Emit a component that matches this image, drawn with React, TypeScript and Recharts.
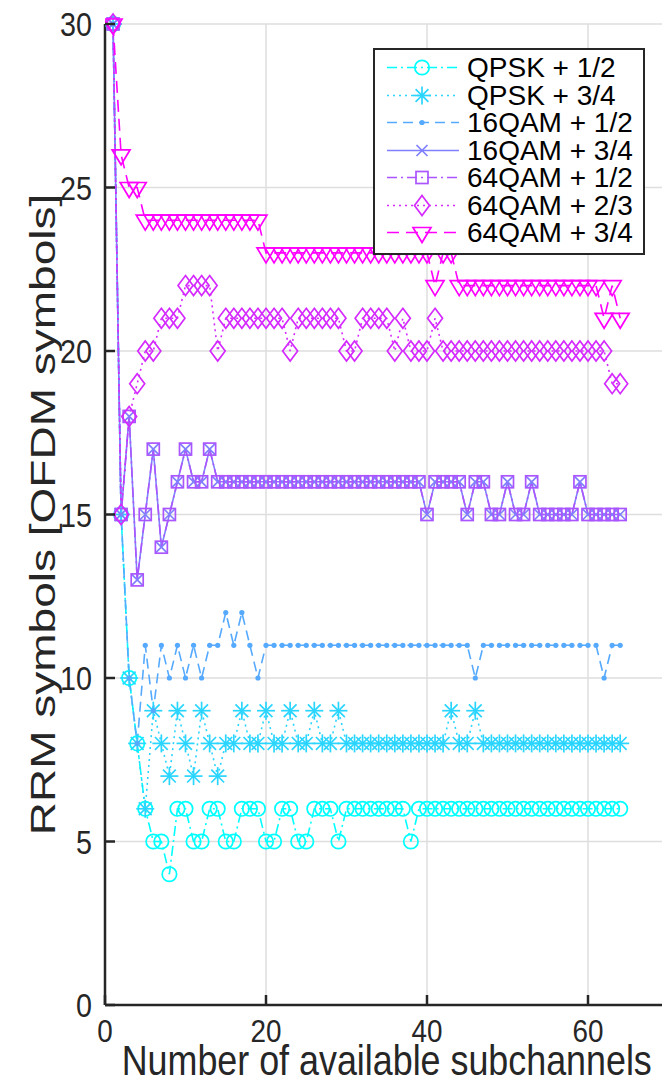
import React from 'react';
import { LineChart, Line, XAxis, YAxis, CartesianGrid, Legend } from 'recharts';

const subchannels = [
  1, 2, 3, 4, 5, 6, 7, 8, 9, 10, 11, 12, 13, 14, 15, 16,
  17, 18, 19, 20, 21, 22, 23, 24, 25, 26, 27, 28, 29, 30, 31, 32,
  33, 34, 35, 36, 37, 38, 39, 40, 41, 42, 43, 44, 45, 46, 47, 48,
  49, 50, 51, 52, 53, 54, 55, 56, 57, 58, 59, 60, 61, 62, 63, 64,
];

const qpsk12 = [
  30, 15, 10, 8, 6, 5, 5, 4, 6, 6, 5, 5, 6, 6, 5, 5,
  6, 6, 6, 5, 5, 6, 6, 5, 5, 6, 6, 6, 5, 6, 6, 6,
  6, 6, 6, 6, 6, 5, 6, 6, 6, 6, 6, 6, 6, 6, 6, 6,
  6, 6, 6, 6, 6, 6, 6, 6, 6, 6, 6, 6, 6, 6, 6, 6,
];

const qpsk34 = [
  30, 15, 10, 8, 6, 9, 8, 7, 9, 8, 7, 9, 8, 7, 8, 8,
  9, 8, 8, 9, 8, 8, 9, 8, 8, 9, 8, 8, 9, 8, 8, 8,
  8, 8, 8, 8, 8, 8, 8, 8, 8, 8, 9, 8, 8, 9, 8, 8,
  8, 8, 8, 8, 8, 8, 8, 8, 8, 8, 8, 8, 8, 8, 8, 8,
];

const qam16_12 = [
  30, 15, 10, 8, 11, 9, 11, 10, 11, 10, 11, 10, 11, 11, 12, 11,
  12, 11, 10, 11, 11, 11, 11, 11, 11, 11, 11, 11, 11, 11, 11, 11,
  11, 11, 11, 11, 11, 11, 11, 11, 11, 11, 11, 11, 11, 10, 11, 11,
  11, 11, 11, 11, 11, 11, 11, 11, 11, 11, 11, 11, 11, 10, 11, 11,
];

const qam16_34 = [
  30, 15, 18, 13, 15, 17, 14, 15, 16, 17, 16, 16, 17, 16, 16, 16,
  16, 16, 16, 16, 16, 16, 16, 16, 16, 16, 16, 16, 16, 16, 16, 16,
  16, 16, 16, 16, 16, 16, 16, 15, 16, 16, 16, 16, 15, 16, 16, 15,
  15, 16, 15, 15, 16, 15, 15, 15, 15, 15, 16, 15, 15, 15, 15, 15,
];

const qam64_12 = [
  30, 15, 18, 13, 15, 17, 14, 15, 16, 17, 16, 16, 17, 16, 16, 16,
  16, 16, 16, 16, 16, 16, 16, 16, 16, 16, 16, 16, 16, 16, 16, 16,
  16, 16, 16, 16, 16, 16, 16, 15, 16, 16, 16, 16, 15, 16, 16, 15,
  15, 16, 15, 15, 16, 15, 15, 15, 15, 15, 16, 15, 15, 15, 15, 15,
];

const qam64_23 = [
  30, 15, 18, 19, 20, 20, 21, 21, 21, 22, 22, 22, 22, 20, 21, 21,
  21, 21, 21, 21, 21, 21, 20, 21, 21, 21, 21, 21, 21, 20, 20, 21,
  21, 21, 21, 20, 21, 20, 20, 20, 21, 20, 20, 20, 20, 20, 20, 20,
  20, 20, 20, 20, 20, 20, 20, 20, 20, 20, 20, 20, 20, 20, 19, 19,
];

const qam64_34 = [
  30, 26, 25, 25, 24, 24, 24, 24, 24, 24, 24, 24, 24, 24, 24, 24,
  24, 24, 24, 23, 23, 23, 23, 23, 23, 23, 23, 23, 23, 23, 23, 23,
  23, 23, 23, 23, 23, 23, 23, 23, 22, 23, 23, 22, 22, 22, 22, 22,
  22, 22, 22, 22, 22, 22, 22, 22, 22, 22, 22, 22, 22, 21, 22, 21,
];

const xTicks = [0, 20, 40, 60];
const yTicks = [0, 5, 10, 15, 20, 25, 30];

type Marker = 'circle' | 'asterisk' | 'point' | 'cross' | 'square' | 'diamond' | 'triangle';

const series: { key: string; name: string; color: string; dash?: string; marker: Marker; values: number[] }[] = [
  { key: 'qpsk12', name: 'QPSK + 1/2', color: '#00ffff', dash: '10 4 2 4', marker: 'circle', values: qpsk12 },
  { key: 'qpsk34', name: 'QPSK + 3/4', color: '#2ad5ff', dash: '2 4', marker: 'asterisk', values: qpsk34 },
  { key: 'qam16_12', name: '16QAM + 1/2', color: '#55aaff', dash: '10 6', marker: 'point', values: qam16_12 },
  { key: 'qam16_34', name: '16QAM + 3/4', color: '#8080ff', marker: 'cross', values: qam16_34 },
  { key: 'qam64_12', name: '64QAM + 1/2', color: '#aa55ff', dash: '10 4 2 4', marker: 'square', values: qam64_12 },
  { key: 'qam64_23', name: '64QAM + 2/3', color: '#d52aff', dash: '2 4', marker: 'diamond', values: qam64_23 },
  { key: 'qam64_34', name: '64QAM + 3/4', color: '#ff00ff', dash: '12 7', marker: 'triangle', values: qam64_34 },
];

const data = subchannels.map((x, i) => {
  const row: Record<string, number> = { x };
  series.forEach((s) => {
    row[s.key] = s.values[i];
  });
  return row;
});

const FONT = '"Liberation Sans", Arial, Helvetica, sans-serif';
const AXIS = '#262626';

function drawMarker(marker: Marker, cx: number, cy: number, color: string, key?: string) {
  const sw = 1.7;
  switch (marker) {
    case 'circle':
      return <circle key={key} cx={cx} cy={cy} r={7.2} fill="none" stroke={color} strokeWidth={sw} />;
    case 'asterisk': {
      const r = 9;
      const d = 6.4;
      return (
        <g key={key} stroke={color} strokeWidth={sw}>
          <line x1={cx - r} y1={cy} x2={cx + r} y2={cy} />
          <line x1={cx} y1={cy - r} x2={cx} y2={cy + r} />
          <line x1={cx - d} y1={cy - d} x2={cx + d} y2={cy + d} />
          <line x1={cx - d} y1={cy + d} x2={cx + d} y2={cy - d} />
        </g>
      );
    }
    case 'point':
      return <circle key={key} cx={cx} cy={cy} r={2.6} fill={color} stroke="none" />;
    case 'cross': {
      const r = 5.5;
      return (
        <g key={key} stroke={color} strokeWidth={sw}>
          <line x1={cx - r} y1={cy - r} x2={cx + r} y2={cy + r} />
          <line x1={cx - r} y1={cy + r} x2={cx + r} y2={cy - r} />
        </g>
      );
    }
    case 'square':
      return <rect key={key} x={cx - 6} y={cy - 6} width={12} height={12} fill="none" stroke={color} strokeWidth={sw} />;
    case 'diamond':
      return (
        <polygon
          key={key}
          points={`${cx},${cy - 10} ${cx + 7.5},${cy} ${cx},${cy + 10} ${cx - 7.5},${cy}`}
          fill="none"
          stroke={color}
          strokeWidth={sw}
        />
      );
    case 'triangle':
    default:
      return (
        <polygon
          key={key}
          points={`${cx - 9},${cy - 5} ${cx + 9},${cy - 5} ${cx},${cy + 10}`}
          fill="none"
          stroke={color}
          strokeWidth={sw}
        />
      );
  }
}

const makeDot = (marker: Marker, color: string) => (props: any) => {
  const { cx, cy, index } = props;
  if (cx == null || cy == null) return <g key={`e-${index}`} />;
  return drawMarker(marker, cx, cy, color, `m-${index}`);
};

const YTick = (props: any) => {
  const { x, y, payload } = props;
  const ax = x + 13;
  return (
    <g>
      <line x1={ax} y1={y} x2={ax + 10} y2={y} stroke={AXIS} strokeWidth={2.5} />
      <text
        transform={`translate(${x} ${y + 12}) scale(0.87 1)`}
        textAnchor="end"
        fontSize={33}
        fontFamily={FONT}
        fill={AXIS}
      >
        {payload.value}
      </text>
    </g>
  );
};

const XTick = (props: any) => {
  const { x, y, payload } = props;
  return (
    <g>
      <line x1={x} y1={y} x2={x} y2={y - 10} stroke={AXIS} strokeWidth={2.5} />
      <text
        transform={`translate(${x} ${y + 37}) scale(0.87 1)`}
        textAnchor="middle"
        fontSize={32}
        fontFamily={FONT}
        fill={AXIS}
      >
        {payload.value}
      </text>
    </g>
  );
};

const YLabel = (props: any) => {
  const vb = props.viewBox || { x: 0, y: 24, width: 105, height: 981 };
  const cx = 55;
  const cy = vb.y + vb.height / 2;
  return (
    <text
      transform={`translate(${cx} ${cy}) rotate(-90) scale(1 0.78)`}
      textAnchor="middle"
      fontSize={46}
      fontFamily={FONT}
      fill={AXIS}
    >
      RRM symbols [OFDM symbols]
    </text>
  );
};

const XLabel = (props: any) => {
  const vb = props.viewBox || { x: 105, y: 1005, width: 563, height: 80 };
  const cx = vb.x + vb.width / 2;
  return (
    <text
      transform={`translate(${cx} 1075) scale(0.834 1)`}
      textAnchor="middle"
      fontSize={43}
      fontFamily={FONT}
      fill={AXIS}
    >
      Number of available subchannels
    </text>
  );
};

const LegendBox = () => (
  <div
    style={{
      border: `2px solid ${AXIS}`,
      background: '#fff',
      width: 268,
      height: 199,
      boxSizing: 'content-box',
      paddingTop: 4,
      fontFamily: FONT,
    }}
  >
    {series.map((s) => (
      <div key={s.key} style={{ display: 'flex', alignItems: 'center', height: 27.5 }}>
        <svg width={92} height={27} style={{ display: 'block' }}>
          <line
            x1={12}
            y1={13.5}
            x2={84}
            y2={13.5}
            stroke={s.color}
            strokeWidth={1.6}
            strokeDasharray={s.dash}
          />
          {drawMarker(s.marker, 47, 13.5, s.color)}
        </svg>
        <span style={{ fontSize: 28, color: '#000', lineHeight: '27px', whiteSpace: 'nowrap' }}>{s.name}</span>
      </div>
    ))}
  </div>
);

export default function App() {
  return (
    <div style={{ position: 'absolute', left: 0, top: 0, width: 662, height: 1085, overflow: 'hidden', background: '#fff' }}>
      <LineChart width={680} height={1085} data={data} margin={{ top: 24, right: 11.5, left: 0, bottom: 0 }}>
        <CartesianGrid stroke="#dedede" strokeWidth={1.5} />
        <XAxis
          dataKey="x"
          type="number"
          domain={[0, 70]}
          ticks={xTicks}
          height={80}
          tickSize={0}
          tickMargin={0}
          tick={<XTick />}
          axisLine={{ stroke: AXIS, strokeWidth: 2.5 }}
          tickLine={false}
          label={<XLabel />}
          allowDataOverflow
        />
        <YAxis
          type="number"
          domain={[0, 30]}
          ticks={yTicks}
          width={105}
          tickSize={0}
          tickMargin={13}
          tick={<YTick />}
          axisLine={{ stroke: AXIS, strokeWidth: 2.5 }}
          tickLine={false}
          label={<YLabel />}
        />
        <Legend
          verticalAlign="middle"
          align="center"
          layout="vertical"
          content={() => <LegendBox />}
          wrapperStyle={{ position: 'absolute', left: 373, top: 48, width: 272, height: 203 }}
        />
        {series.map((s) => (
          <Line
            key={s.key}
            type="linear"
            dataKey={s.key}
            name={s.name}
            stroke={s.color}
            strokeWidth={1.6}
            strokeDasharray={s.dash}
            dot={makeDot(s.marker, s.color)}
            activeDot={false}
            isAnimationActive={false}
            legendType="none"
          />
        ))}
      </LineChart>
    </div>
  );
}
